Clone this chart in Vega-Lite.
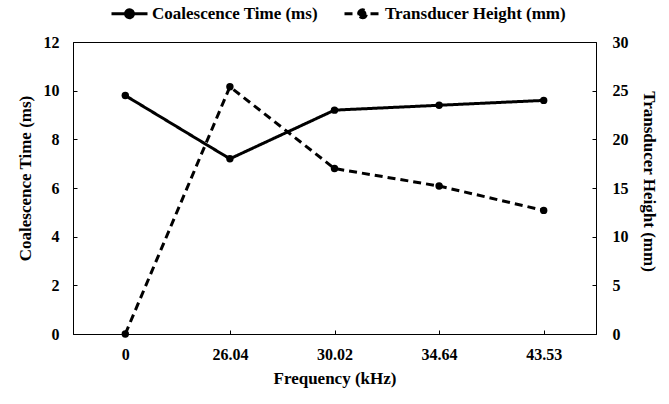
{
  "$schema": "https://vega.github.io/schema/vega-lite/v6.json",
  "width": 523,
  "height": 292,
  "autosize": "none",
  "padding": {"left": 73, "top": 42, "right": 73, "bottom": 70},
  "background": "white",
  "config": {
    "font": "Liberation Serif",
    "view": {"stroke": "black", "strokeWidth": 1},
    "axis": {
      "labelFont": "Liberation Serif",
      "labelFontSize": 16,
      "labelFontWeight": "bold",
      "labelColor": "black",
      "titleFont": "Liberation Serif",
      "titleFontSize": 17,
      "titleFontWeight": "bold",
      "titleColor": "black",
      "domainColor": "black",
      "tickColor": "black",
      "grid": false
    }
  },
  "data": {
    "values": [
      {"freq": "0", "series": "Coalescence Time (ms)", "value": 9.8},
      {"freq": "26.04", "series": "Coalescence Time (ms)", "value": 7.2},
      {"freq": "30.02", "series": "Coalescence Time (ms)", "value": 9.2},
      {"freq": "34.64", "series": "Coalescence Time (ms)", "value": 9.4},
      {"freq": "43.53", "series": "Coalescence Time (ms)", "value": 9.6},
      {"freq": "0", "series": "Transducer Height (mm)", "value": 0},
      {"freq": "26.04", "series": "Transducer Height (mm)", "value": 25.4},
      {"freq": "30.02", "series": "Transducer Height (mm)", "value": 17.0},
      {"freq": "34.64", "series": "Transducer Height (mm)", "value": 15.2},
      {"freq": "43.53", "series": "Transducer Height (mm)", "value": 12.7}
    ]
  },
  "encoding": {
    "x": {
      "field": "freq",
      "type": "ordinal",
      "sort": null,
      "scale": {"type": "point", "padding": 0.5},
      "axis": {
        "title": "Frequency (kHz)",
        "labelAngle": 0,
        "tickSize": -4,
        "labelPadding": 16,
        "titlePadding": 8
      }
    }
  },
  "layer": [
    {
      "transform": [{"filter": "datum.series === 'Coalescence Time (ms)'"}],
      "encoding": {
        "y": {
          "field": "value",
          "type": "quantitative",
          "scale": {"domain": [0, 12]},
          "axis": {
            "title": "Coalescence Time (ms)",
            "orient": "left",
            "values": [0, 2, 4, 6, 8, 10, 12],
            "tickSize": -4,
            "labelPadding": 18,
            "titlePadding": 9,
            "titleY": 136
          }
        }
      },
      "layer": [
        {
          "mark": {"type": "line", "color": "black", "strokeWidth": 3},
          "encoding": {
            "strokeDash": {
              "field": "series",
              "type": "nominal",
              "scale": {
                "domain": ["Coalescence Time (ms)", "Transducer Height (mm)"],
                "range": [[1, 0], [8, 5]]
              },
              "legend": {
                "title": null,
                "orient": "none",
                "direction": "horizontal",
                "legendX": 37,
                "legendY": -48,
                "symbolType": "M-1,0H1M-0.22,0A0.22,0.22,0,1,1,0.22,0A0.22,0.22,0,1,1,-0.22,0Z",
                "symbolSize": 1296,
                "symbolStrokeWidth": 3,
                "symbolStrokeColor": "black",
                "symbolFillColor": "black",
                "labelFont": "Liberation Serif",
                "labelFontSize": 17,
                "labelFontWeight": "bold",
                "labelColor": "black",
                "labelLimit": 400,
                "labelOffset": 3,
                "columnPadding": 20,
                "encode": {"symbols": {"update": {"fill": {"value": "black"}, "stroke": {"value": "black"}, "opacity": {"value": 1}}}}
              }
            }
          }
        },
        {
          "mark": {"type": "point", "filled": true, "color": "black", "size": 55, "opacity": 1}
        }
      ]
    },
    {
      "transform": [{"filter": "datum.series === 'Transducer Height (mm)'"}],
      "encoding": {
        "y": {
          "field": "value",
          "type": "quantitative",
          "scale": {"domain": [0, 30]},
          "axis": {
            "title": "Transducer Height (mm)",
            "orient": "right",
            "titleAngle": 90,
            "values": [0, 5, 10, 15, 20, 25, 30],
            "tickSize": -4,
            "labelPadding": 20,
            "titlePadding": 11,
            "titleY": 139
          }
        }
      },
      "layer": [
        {
          "mark": {"type": "line", "color": "black", "strokeWidth": 3},
          "encoding": {
            "strokeDash": {
              "field": "series",
              "type": "nominal",
              "scale": {
                "domain": ["Coalescence Time (ms)", "Transducer Height (mm)"],
                "range": [[1, 0], [8, 5]]
              }
            }
          }
        },
        {
          "mark": {"type": "point", "filled": true, "color": "black", "size": 55, "opacity": 1}
        }
      ]
    }
  ],
  "resolve": {"scale": {"y": "independent"}}
}
